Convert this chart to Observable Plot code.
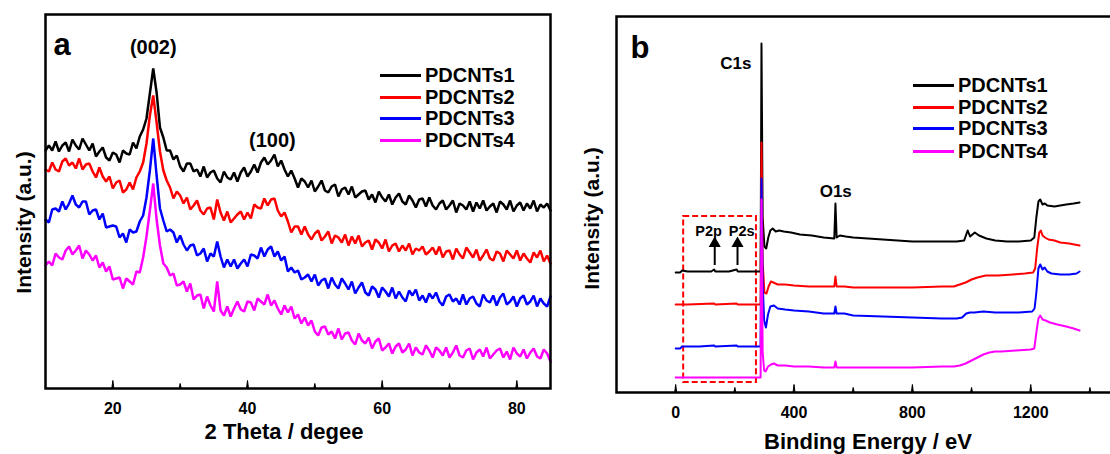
<!DOCTYPE html>
<html><head><meta charset="utf-8">
<script src="https://cdn.jsdelivr.net/npm/d3@7"></script>
<script src="https://cdn.jsdelivr.net/npm/@observablehq/plot@0.6"></script>
<style>
html,body{margin:0;padding:0;background:#fff;overflow:hidden;}
#root{position:relative;width:1110px;height:454px;overflow:hidden;font-family:"Liberation Sans",Arial,sans-serif;font-weight:bold;}
.panel{position:absolute;top:0;}
.item{position:absolute;display:flex;align-items:center;height:22px;}
.item .ln{display:inline-block;width:41px;height:3px;margin-right:4px;}
.item .tx{font-size:20px;line-height:22px;color:#000;}
</style>
</head><body>
<div id="root"></div>
<script>
// ---------- shared ----------
const seriesNames = ["PDCNTs1", "PDCNTs2", "PDCNTs3", "PDCNTs4"];
const seriesColors = ["#000000", "#ff0000", "#0000ff", "#ff00ff"];

// ---------- panel a : XRD (2θ from 10 to 85, every 0.5°), intensities ----------
const thetaStart = 10, thetaStep = 0.5;
const xrdPDCNTs1 = [238,243,238,247,237,243,246,237,249,243,239,250,244,238,245,232,237,241,231,228,236,234,226,238,235,234,246,240,252,259,270,295,320,296,261,251,238,238,229,233,222,217,225,225,217,219,212,222,211,216,218,210,206,217,211,209,216,207,216,221,212,217,224,216,226,231,224,228,234,222,228,219,212,218,210,201,210,207,201,208,197,202,208,198,196,202,204,192,199,201,194,202,191,194,197,198,189,194,186,197,191,187,194,184,191,195,187,184,193,188,181,189,190,182,191,183,179,185,188,179,183,188,176,185,183,179,187,177,186,180,188,178,182,185,176,187,184,179,188,177,183,186,178,185,180,188,177,184,181,185,178];
const xrdPDCNTs2 = [219,217,226,219,217,227,230,223,226,220,230,219,224,225,217,211,221,212,207,212,200,206,208,196,199,206,199,211,217,226,245,273,293,266,237,218,208,201,190,197,193,185,191,179,183,188,178,174,180,181,169,189,176,168,177,166,170,174,177,169,176,170,184,181,180,190,183,189,190,178,172,176,167,156,162,162,154,162,154,149,155,158,148,152,157,145,153,151,146,154,143,152,145,153,142,146,148,139,149,146,140,149,137,143,145,137,143,138,145,134,140,138,142,134,137,141,134,142,131,137,138,129,140,134,130,141,136,131,139,128,133,139,130,128,137,135,127,138,134,130,138,128,135,130,126,136,131,138,127,133,125];
const xrdPDCNTs3 = [169,166,179,180,177,187,179,185,193,184,181,187,187,174,178,179,169,175,161,162,163,162,151,155,146,159,156,157,167,173,191,218,250,213,180,168,157,159,156,146,153,144,138,143,144,133,135,140,127,135,132,147,132,121,129,122,129,120,125,129,122,134,133,130,141,132,139,142,132,137,128,132,117,121,116,118,109,111,114,107,114,103,108,110,100,111,104,100,110,105,99,107,95,101,106,96,93,102,99,91,101,97,92,101,90,97,91,87,98,93,99,88,93,86,95,90,96,87,83,92,94,87,90,84,94,84,90,92,85,82,94,88,86,93,83,91,95,84,87,92,82,90,93,84,87,93,82,90,85,82,92];
const xrdPDCNTs4 = [123,127,123,135,131,129,138,142,134,138,143,130,138,134,128,133,121,126,117,122,109,110,111,100,110,107,104,117,116,131,152,178,205,169,143,125,121,113,115,103,104,107,97,105,89,93,94,80,92,83,77,107,78,73,82,72,80,87,79,77,87,86,78,90,87,84,94,83,88,80,74,83,76,82,70,74,65,71,63,68,57,53,61,62,54,57,50,60,49,55,56,48,44,55,48,45,51,40,47,50,38,41,45,35,42,45,36,39,45,33,41,36,34,43,38,31,41,38,33,41,31,36,43,33,31,38,40,29,36,39,32,41,30,34,38,40,31,37,29,41,35,32,39,30,36,40,32,30,39,35,27];
const xrdMajorTicks = [20, 40, 60, 80];
const xrdMinorTicks = [30, 50, 70];
const xrdPeakLabels = [{t: 26.0, I: 335, label: "(002)"}, {t: 43.7, I: 242, label: "(100)"}];

// ---------- panel b : XPS survey ([binding energy eV, intensity]) ----------
const xpsPDCNTs1 = [[0,120],[15,120],[22,122],[40,121],[80,121],[120,121],[130,123],[134,121],[180,121],[206,123],[210,121],[250,121],[287,121],[290,349],[294,175],[300,146],[306,144],[313,155],[320,162],[328,164],[338,161],[350,162],[365,161],[390,160],[420,158],[460,157],[500,155],[536,154],[540,189],[544,155],[555,157],[575,156],[600,155],[650,154],[700,153],[750,152],[800,151],[850,151],[900,151],[950,151],[975,152],[982,158],[987,162],[995,156],[1003,158],[1011,160],[1025,157],[1050,154],[1080,152],[1120,151],[1160,151],[1200,152],[1212,155],[1219,175],[1226,191],[1232,193],[1240,188],[1248,189],[1256,187],[1280,186],[1300,187],[1320,188],[1345,189],[1365,190]];
const xpsPDCNTs2 = [[0,88],[40,88],[130,89],[134,88],[206,89],[210,88],[287,88],[290,250],[294,130],[300,100],[307,99],[314,106],[322,111],[330,110],[345,108],[370,108],[400,107],[450,106],[500,106],[536,106],[540,116],[544,106],[570,106],[600,105],[700,105],[800,105],[900,106],[940,106],[960,108],[980,110],[1000,113],[1020,115],[1048,117],[1090,117],[1140,118],[1180,119],[1208,120],[1215,124],[1222,145],[1229,160],[1234,162],[1240,157],[1248,155],[1260,153],[1280,152],[1300,150],[1330,149],[1365,147]];
const xpsPDCNTs3 = [[0,44],[15,44],[22,46],[80,46],[130,47],[134,46],[206,47],[210,46],[287,46],[290,214],[294,110],[299,72],[305,65],[312,78],[320,86],[332,87],[345,84],[370,83],[400,82],[450,81],[500,79],[536,79],[540,86],[544,79],[570,79],[600,77],[700,76],[800,75],[900,74],[950,74],[968,75],[982,79],[995,80],[1010,80],[1040,81],[1080,80],[1120,80],[1160,80],[1205,81],[1213,84],[1219,100],[1226,124],[1232,128],[1240,123],[1247,125],[1256,121],[1270,119],[1300,118],[1330,118],[1355,119],[1365,121]];
const xpsPDCNTs4 = [[0,15],[100,15],[200,15],[287,15],[290,193],[294,40],[299,22],[304,21],[312,26],[322,28],[332,29],[345,27],[370,27],[400,26],[450,26],[500,25],[536,25],[540,31],[544,25],[570,25],[600,25],[700,25],[800,25],[900,26],[940,26],[960,27],[980,29],[1000,32],[1020,35],[1040,38],[1060,40],[1080,41],[1100,41],[1150,42],[1200,43],[1212,44],[1219,60],[1226,74],[1232,77],[1240,73],[1250,72],[1265,70],[1290,68],[1320,66],[1345,64],[1365,62]];
const xpsMajorTicks = [0, 400, 800, 1200];
const xpsMinorTicks = [200, 600, 1000, 1400];
const xpsPeakLabels = [{E: 203, I: 324, label: "C1s"}, {E: 541, I: 196, label: "O1s"}];
const xpsSmallLabels = [{E: 111, I: 157, label: "P2p"}, {E: 223, I: 157, label: "P2s"}];
const xpsArrows = [{E: 132, from: 127, to: 150}, {E: 209, from: 127, to: 150}];
const xpsBox = [{E1: 27, E2: 273, I1: 10, I2: 176}];

// ---------- build tidy rows ----------
const FONT = "'Liberation Sans', Arial, sans-serif";
const xrdSeries = [xrdPDCNTs1, xrdPDCNTs2, xrdPDCNTs3, xrdPDCNTs4];
const xrdRows = xrdSeries.flatMap((vals, s) => vals.map((I, i) => ({series: seriesNames[s], theta: thetaStart + i * thetaStep, I})));
const xpsSeries = [xpsPDCNTs1, xpsPDCNTs2, xpsPDCNTs3, xpsPDCNTs4];
const xpsRows = xpsSeries.flatMap((pts, s) => pts.map(([E, I]) => ({series: seriesNames[s], E, I})));

const root = document.getElementById("root");

function txt(data, opts) {
  return Plot.text(data, {fontFamily: FONT, fontWeight: "bold", fill: "black", textAnchor: "middle", ...opts});
}
// inward ticks drawn as thin upward spikes from the bottom of the frame
function ticks(major, minor) {
  return [
    Plot.vectorX(major, {frameAnchor: "bottom", length: 8, anchor: "start", shape: "spike", r: 1, fill: "black", stroke: "black", strokeWidth: 1}),
    Plot.vectorX(minor, {frameAnchor: "bottom", length: 5, anchor: "start", shape: "spike", r: 1, fill: "black", stroke: "black", strokeWidth: 1}),
    Plot.axisX(major, {tickSize: 0, tickPadding: 14, label: null, fontSize: 16, fontWeight: "bold", tickFormat: d => String(d)})
  ];
}

// ---------- panel a ----------
const plotA = Plot.plot({
  width: 560, height: 454,
  marginLeft: 45, marginRight: 10, marginTop: 14, marginBottom: 66,
  x: {domain: [10, 85]},
  y: {domain: [0, 374], axis: null},
  color: {domain: seriesNames, range: seriesColors},
  style: {fontFamily: FONT, fontWeight: "bold", fontSize: "16px", color: "black", background: "transparent", overflow: "visible"},
  marks: [
    Plot.lineY(xrdRows, {x: "theta", y: "I", z: "series", stroke: "series", strokeWidth: 2.5, strokeLinejoin: "miter"}),
    ...ticks(xrdMajorTicks, xrdMinorTicks),
    Plot.frame({stroke: "black", strokeWidth: 2.5}),
    txt(xrdPeakLabels, {x: "t", y: "I", text: "label", fontSize: 20, lineAnchor: "bottom"}),
    txt(["a"], {frameAnchor: "top-left", dx: 8, dy: 40, fontSize: 31, textAnchor: "start", lineAnchor: "bottom"}),
    txt(["2 Theta / degee"], {frameAnchor: "bottom", dx: -14, dy: 50, fontSize: 22, lineAnchor: "bottom"}),
    txt(["Intensity (a.u.)"], {frameAnchor: "left", dx: -15, dy: 21, rotate: -90, fontSize: 21, lineAnchor: "bottom"})
  ]
});
plotA.classList.add("panel");
plotA.style.left = "0px";
root.appendChild(plotA);

// ---------- panel b ----------
const plotB = Plot.plot({
  width: 565, height: 454,
  marginLeft: 56, marginRight: 6, marginTop: 16, marginBottom: 62,
  x: {domain: [-200, 1500]},
  y: {domain: [0, 376], axis: null},
  color: {domain: seriesNames, range: seriesColors},
  style: {fontFamily: FONT, fontWeight: "bold", fontSize: "16px", color: "black", background: "transparent", overflow: "visible"},
  marks: [
    Plot.rect(xpsBox, {x1: "E1", x2: "E2", y1: "I1", y2: "I2", fill: "none", stroke: "#ff0000", strokeWidth: 2, strokeDasharray: "6,3"}),
    Plot.line(xpsRows, {x: "E", y: "I", z: "series", stroke: "series", strokeWidth: 2}),
    Plot.ruleX(xpsArrows, {x: "E", y1: "from", y2: "to", stroke: "black", strokeWidth: 2}),
    Plot.dot(xpsArrows, {x: "E", y: "to", symbol: "triangle", r: 4.5, fill: "black", stroke: "none", dy: 1}),
    ...ticks(xpsMajorTicks, xpsMinorTicks),
    Plot.frame({stroke: "black", strokeWidth: 2.5}),
    txt(xpsPeakLabels, {x: "E", y: "I", text: "label", fontSize: 17, lineAnchor: "bottom"}),
    txt(xpsSmallLabels, {x: "E", y: "I", text: "label", fontSize: 14.5, lineAnchor: "bottom"}),
    txt(["b"], {frameAnchor: "top-left", dx: 14, dy: 41, fontSize: 31, textAnchor: "start", lineAnchor: "bottom"}),
    txt(["Binding Energy / eV"], {frameAnchor: "bottom", dx: 0, dy: 56, fontSize: 22, lineAnchor: "bottom"}),
    txt(["Intensity (a.u.)"], {frameAnchor: "left", dx: -18, dy: 14, rotate: -90, fontSize: 21, lineAnchor: "bottom"})
  ]
});
plotB.classList.add("panel");
plotB.style.left = "560px";
root.appendChild(plotB);

// ---------- legends (HTML) ----------
function legend(left, centers) {
  seriesNames.forEach((name, i) => {
    const d = document.createElement("div");
    d.className = "item";
    d.style.left = left + "px";
    d.style.top = (centers[i] - 11) + "px";
    d.innerHTML = `<span class="ln" style="background:${seriesColors[i]}"></span><span class="tx">${name}</span>`;
    root.appendChild(d);
  });
}
legend(380, [75, 97, 118, 140]);
legend(913, [85, 107, 128, 151]);
</script>
</body></html>
